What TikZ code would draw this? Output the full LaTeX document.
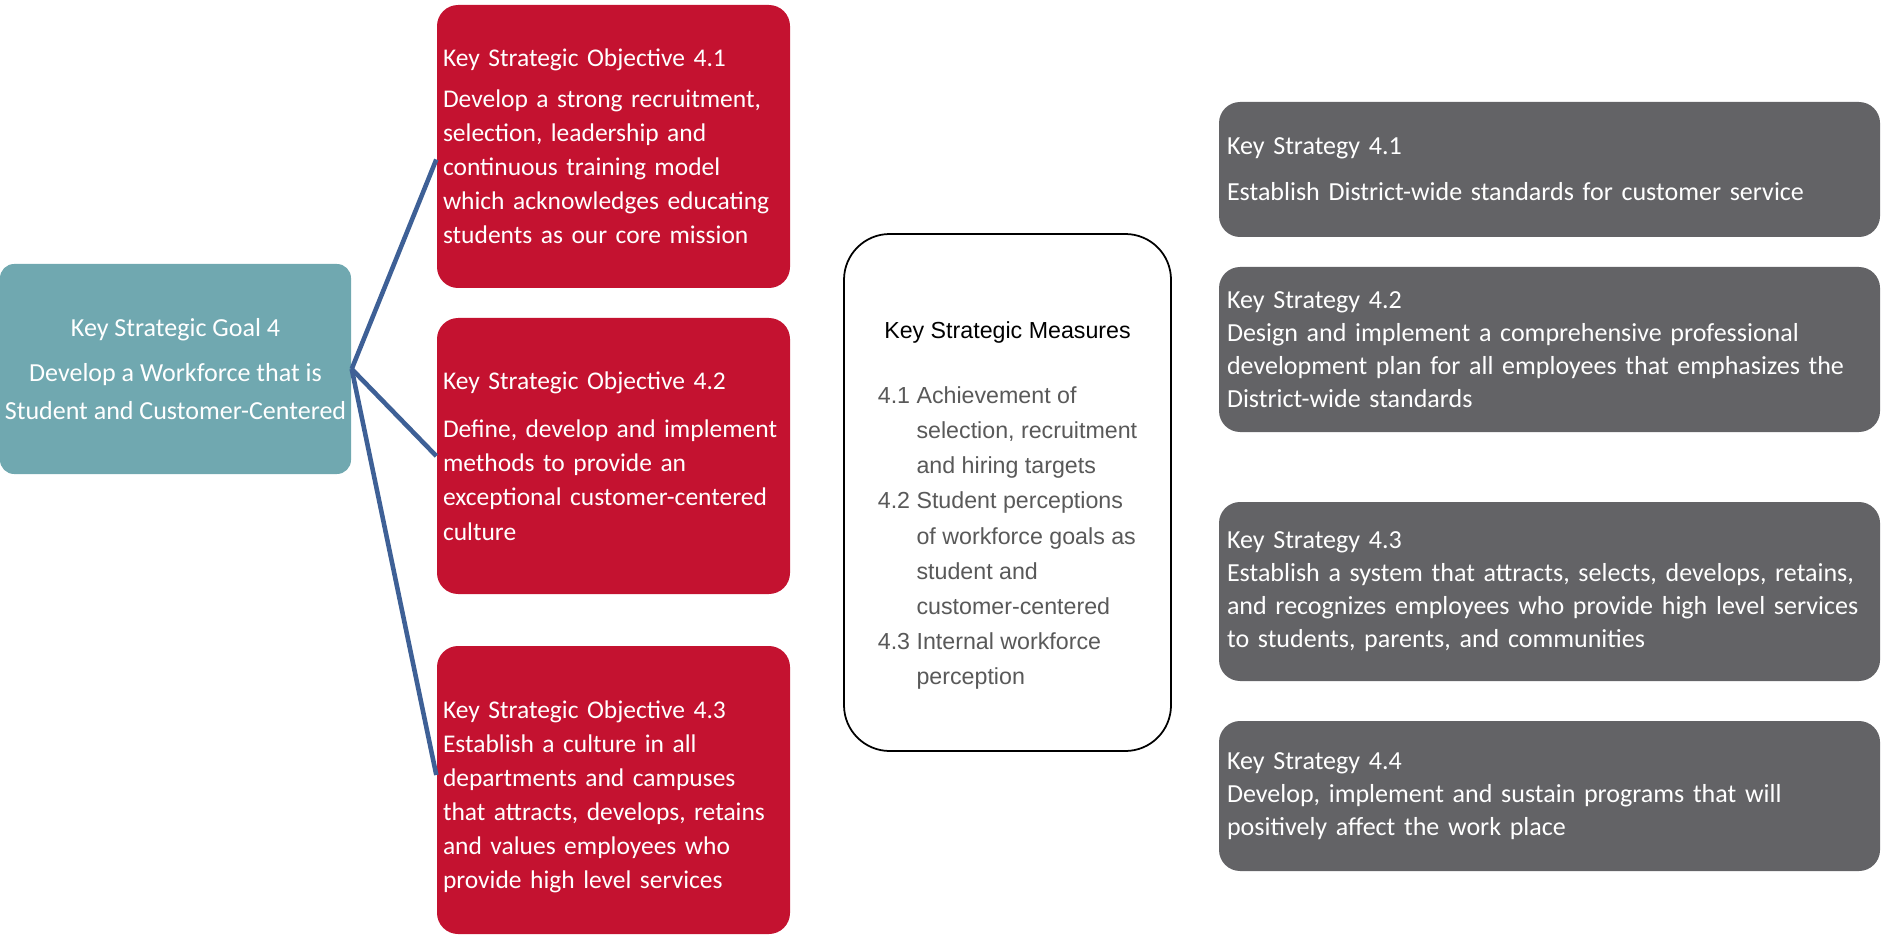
\documentclass[tikz,border=0pt]{standalone}
\usepackage{fontspec}
\setmainfont{Carlito}
\newfontfamily\arialfont{Liberation Sans}
\usetikzlibrary{positioning}
\definecolor{cT}{HTML}{70A8B0}
\definecolor{cR}{HTML}{C41230}
\definecolor{cG}{HTML}{636366}
\definecolor{cB}{HTML}{3E6096}
\definecolor{cM}{HTML}{595959}
\newdimen\pxu \pxu=0.01cm
\hyphenpenalty=10000
\tikzset{
  goalbox/.style={rounded corners=4pt,fill=cT,text=white,align=center,
              inner sep=0pt,font=\fontsize{7.4}{10.8}\selectfont},
  objbox/.style={rounded corners=6pt,fill=cR,text=white,align=left,
              inner xsep=6\pxu,inner ysep=0pt,text width=341\pxu,
              font=\fontsize{7.25}{9.7}\selectfont},
  stratbox/.style={rounded corners=6pt,fill=cG,text=white,align=left,
              inner xsep=8\pxu,inner ysep=0pt,text width=645\pxu,
              font=\fontsize{7.4}{9.4}\selectfont},
  measbox/.style={rounded corners=13pt,draw=black,line width=0.5pt,fill=white,
              align=center,text=cM,font=\arialfont\fontsize{6.6}{10}\selectfont},
  link/.style={line width=1.3pt,cB},
}

\begin{document}
\begin{tikzpicture}[x=0.01cm,y=-0.01cm]
  \useasboundingbox (0,0) rectangle (1883,937);
  % goal on the left
  \node[goalbox,minimum width=351\pxu,minimum height=210\pxu] (goal) at (175.5,369)
    {Key Strategic Goal 4\\[2pt]Develop a Workforce that is\\Student and Customer-Centered};
  % objectives
  \node[objbox,minimum height=283\pxu] (o1) at (613.5,146.5)
    {Key Strategic Objective 4.1\\[1.8pt]Develop a strong recruitment,\\selection, leadership and\\
     continuous training model\\which acknowledges educating\\students as our core mission};
  \node[objbox,minimum height=276\pxu] (o2) at (613.5,456)
    {Key Strategic Objective 4.2\\[4pt]Define, develop and implement\\methods to provide an\\
     exceptional customer-centered\\culture};
  \node[objbox,minimum height=288\pxu] (o3) at (613.5,790)
    {\rule{0pt}{9pt}Key Strategic Objective 4.3\\Establish a culture in all\\departments and campuses\\
     that attracts, develops, retains\\and values employees who\\provide high level services};
  \draw[link] (goal.east) -- ([yshift=-13\pxu]o1.west);
  \draw[link] (goal.east) -- (o2.west);
  \draw[link] (goal.east) -- ([yshift=15\pxu]o3.west);
  % measures
  \node[measbox,minimum width=327\pxu,minimum height=517\pxu] (meas) at (1007.5,492.5)
    {\rule{0pt}{14pt}{\color{black}Key Strategic Measures}\\[9pt]
     \begin{tabular}{@{}l@{ }l@{}}
       4.1 & Achievement of\\
           & selection, recruitment\\
           & and hiring targets\\
       4.2 & Student perceptions\\
           & of workforce goals as\\
           & student and\\
           & customer-centered\\
       4.3 & Internal workforce\\
           & perception
     \end{tabular}};
  % strategies
  \node[stratbox,minimum height=135\pxu] (s1) at (1549.5,169.5)
    {Key Strategy 4.1\\[3.7pt]Establish District-wide standards for customer service};
  \node[stratbox,minimum height=165\pxu] (s2) at (1549.5,349.5)
    {Key Strategy 4.2\\Design and implement a comprehensive professional\\
     development plan for all employees that emphasizes the\\District-wide standards};
  \node[stratbox,minimum height=179\pxu] (s3) at (1549.5,591.5)
    {Key Strategy 4.3\\Establish a system that attracts, selects, develops, retains,\\
     and recognizes employees who provide high level services\\to students, parents, and communities};
  \node[stratbox,minimum height=150\pxu] (s4) at (1549.5,796)
    {Key Strategy 4.4\\Develop, implement and sustain programs that will\\positively affect the work place};
\end{tikzpicture}
\end{document}
